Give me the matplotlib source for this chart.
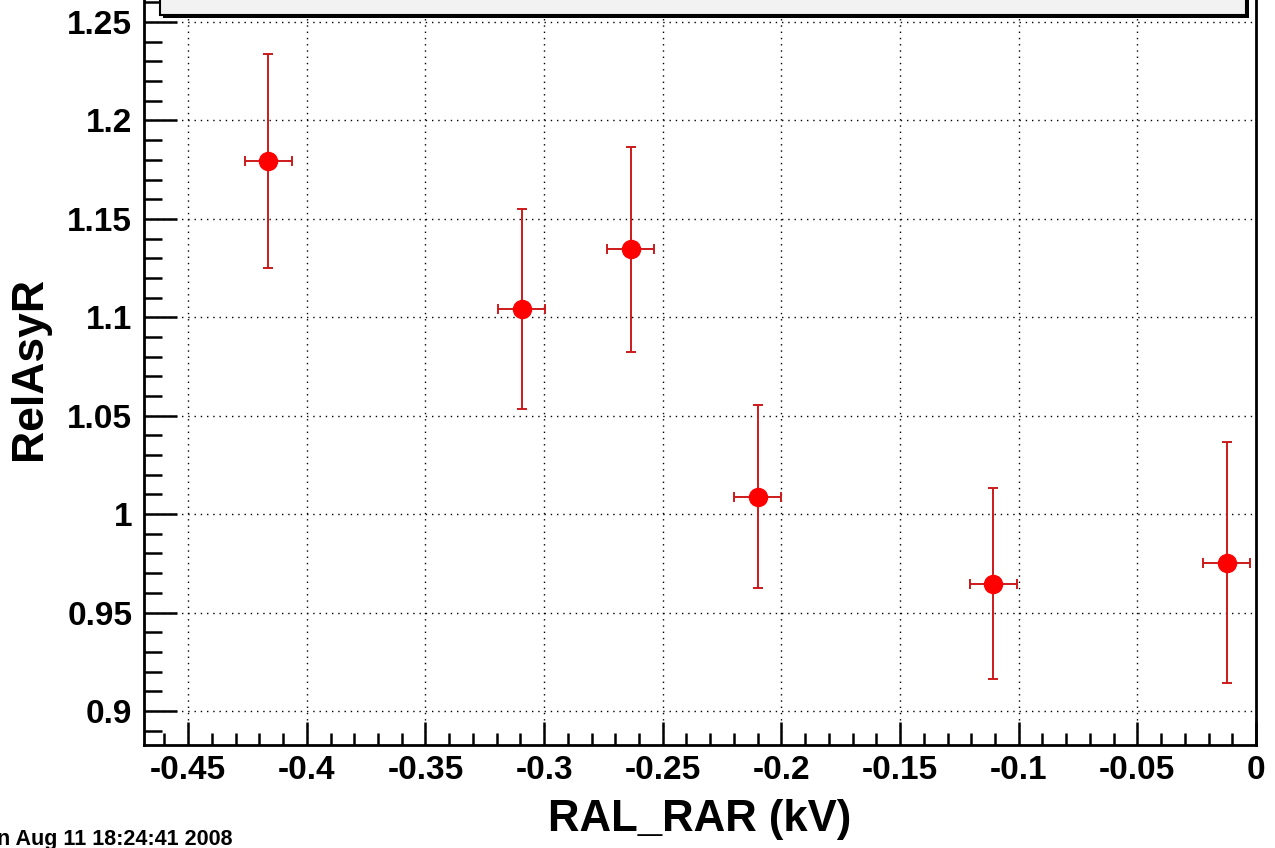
import matplotlib
matplotlib.use("Agg")
import matplotlib.pyplot as plt
from matplotlib.ticker import MultipleLocator, FuncFormatter
from matplotlib.patches import Rectangle

# ==============================
# DATA
# ==============================
ral_rar = [-0.4162, -0.3095, -0.2635, -0.2099, -0.1108, -0.0124]
ral_rar_err = [0.0099, 0.0099, 0.0099, 0.0099, 0.0099, 0.0099]
rel_asy_r = [1.1795, 1.1040, 1.1345, 1.0089, 0.9646, 0.9754]
rel_asy_r_err = [0.0545, 0.0508, 0.0519, 0.0466, 0.0486, 0.0610]

x_label = "RAL_RAR (kV)"
y_label = "RelAsyR"
date_stamp = "Mon Aug 11 18:24:41 2008"

W, H = 1275, 848
fig = plt.figure(figsize=(W / 100, H / 100), dpi=100)
plt.rcParams["font.family"] = ["Liberation Sans", "DejaVu Sans"]

# axes in pixel layout of the reference
ax_left, ax_right, ax_bottom, ax_top = 144, 1256, 745, 0
ax = fig.add_axes([ax_left / W, (H - ax_bottom) / H,
                   (ax_right - ax_left) / W, (ax_bottom - ax_top) / H])

ax.errorbar(ral_rar, rel_asy_r, xerr=ral_rar_err, yerr=rel_asy_r_err,
            fmt="o", color="red", markersize=13, ecolor="#cc1a1a",
            elinewidth=1.4, capsize=3.5, capthick=1.4, zorder=3)

ax.set_xlim(-0.4686, 0.0)
ax.set_ylim(0.8827, 1.2612)

ax.xaxis.set_major_locator(MultipleLocator(0.05))
ax.xaxis.set_minor_locator(MultipleLocator(0.01))
ax.yaxis.set_major_locator(MultipleLocator(0.05))
ax.yaxis.set_minor_locator(MultipleLocator(0.01))
fmt = FuncFormatter(lambda v, p: "%g" % round(v, 3))
ax.xaxis.set_major_formatter(fmt)
ax.yaxis.set_major_formatter(fmt)

ax.tick_params(axis="both", which="both", direction="in", width=1.8,
               top=False, right=False, labelsize=24, pad=8.5)
ax.tick_params(axis="y", which="major", length=24)
ax.tick_params(axis="y", which="minor", length=13)
ax.tick_params(axis="x", which="major", length=16.5, pad=7)
ax.tick_params(axis="x", which="minor", length=8.5)
for lab in ax.get_xticklabels() + ax.get_yticklabels():
    lab.set_fontweight("bold")

ax.grid(True, which="major", color="black", linestyle=(0, (1, 3.5)), linewidth=1.0)
ax.spines["top"].set_visible(False)
for s in ["left", "bottom", "right"]:
    ax.spines[s].set_linewidth(2)

# title box (cut at the top of the image)
shadow = Rectangle((163 / W, (H - 18) / H), (1249 - 163) / W, 40 / H,
                   transform=fig.transFigure, facecolor="black",
                   edgecolor="none", zorder=5)
box = Rectangle((160 / W, (H - 15) / H), (1246 - 160) / W, 40 / H,
                transform=fig.transFigure, facecolor="#f2f2f2",
                edgecolor="black", linewidth=1.5, zorder=6)
fig.add_artist(shadow)
fig.add_artist(box)

fig.text(700 / W, (H - 819) / H, x_label, ha="center", va="center",
         fontsize=31.5, fontweight="bold")
fig.text(30 / W, (H - 369) / H, y_label, ha="center", va="center",
         rotation=90, fontsize=32, fontweight="bold")
# date stamp runs off the left edge, as in the original
fig.text(233 / W, (H - 845) / H, date_stamp, ha="right", va="baseline",
         fontsize=15.5, fontweight="bold")

plt.savefig("out.png", dpi=100)
